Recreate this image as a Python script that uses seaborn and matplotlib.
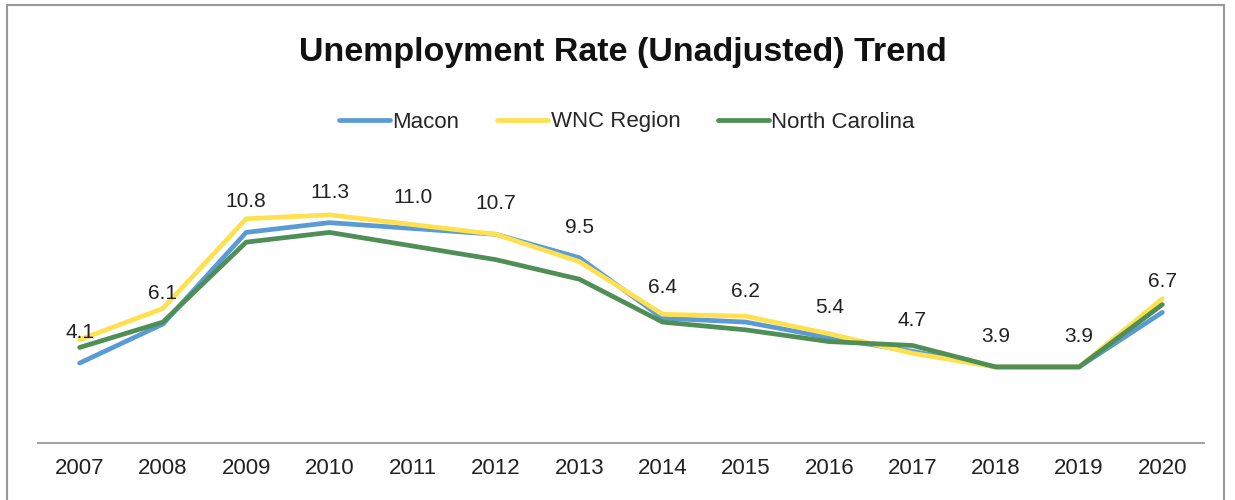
import pandas as pd
import matplotlib.pyplot as plt
import seaborn as sns
from matplotlib.patches import Rectangle

# Data
years = ['2007', '2008', '2009', '2010', '2011', '2012', '2013',
         '2014', '2015', '2016', '2017', '2018', '2019', '2020']
macon = [4.1, 6.1, 10.8, 11.3, 11.0, 10.7, 9.5, 6.4, 6.2, 5.4, 4.7, 3.9, 3.9, 6.7]
wnc = [5.3, 6.9, 11.5, 11.7, 11.2, 10.7, 9.3, 6.6, 6.5, 5.6, 4.6, 3.9, 3.9, 7.4]
nc = [4.9, 6.2, 10.3, 10.8, 10.1, 9.4, 8.4, 6.2, 5.8, 5.2, 5.0, 3.9, 3.9, 7.1]
series_names = ['Macon', 'WNC Region', 'North Carolina']
colors = ['#5B9BD5', '#FFE14F', '#4F8E55']

df = pd.DataFrame({
    'year': years * 3,
    'rate': macon + wnc + nc,
    'area': [s for s in series_names for _ in years],
})

sns.set_theme(style='white')
plt.rcParams['font.family'] = ['Liberation Sans', 'DejaVu Sans']

fig = plt.figure(figsize=(12.35, 5), dpi=100)
ax = fig.add_axes([38 / 1235, 1 - 443 / 500, 1166 / 1235, 234 / 500])

sns.lineplot(data=df, x='year', y='rate', hue='area', palette=colors,
             linewidth=3.4, sort=False, ax=ax)
ax.set_xlim(-0.5, 13.5)
ax.set_ylim(0, 12)

# data labels for Macon
for i, v in enumerate(macon):
    ax.annotate(f'{v:.1f}', (i, v), xytext=(0, 22), textcoords='offset points',
                ha='center', va='center', fontsize=15, color='#222222',
                annotation_clip=False)

ax.set_xlabel('')
ax.set_ylabel('')
ax.set_yticks([])
ax.tick_params(axis='x', length=0, labelsize=16, pad=11, colors='#222222')
for side in ['top', 'left', 'right']:
    ax.spines[side].set_visible(False)
ax.spines['bottom'].set_color('#999999')
ax.spines['bottom'].set_linewidth(1.3)

# legend
handles, labels = ax.get_legend_handles_labels()
ax.legend(handles, labels, loc='center', bbox_to_anchor=(627 / 1235, 1 - 122 / 500),
          bbox_transform=fig.transFigure, ncol=3, frameon=False, fontsize=16,
          handlelength=2.3, handletextpad=0.1, columnspacing=1.7)

fig.text(623 / 1235, 1 - 52 / 500, 'Unemployment Rate (Unadjusted) Trend',
         ha='center', va='center', fontsize=24.5, fontweight='bold', color='#111111')

# outer frame
fig.patches.append(Rectangle((7 / 1235, -0.01), 1217 / 1235, 1 - 5 / 500 + 0.01,
                             transform=fig.transFigure, fill=False,
                             edgecolor='#999999', linewidth=1.5))

fig.savefig('out.png', dpi=100)
